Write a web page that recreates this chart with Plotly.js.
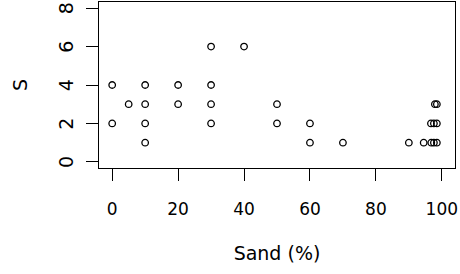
<!DOCTYPE html>
<html>
<head>
<meta charset="utf-8">
<script src="https://cdn.plot.ly/plotly-3.0.1.min.js"></script>
<style>html,body{margin:0;padding:0;background:#fff;}#chart{width:460px;height:274px;}</style>
</head>
<body>
<div id="chart"></div>
<script>
var sand = [0, 0, 5, 10, 10, 10, 10, 20, 20, 30, 30, 30, 30, 40, 50, 50, 60, 60, 70, 90, 94.5, 96.8, 97.6, 98.5, 96.7, 97.6, 98.5, 97.9, 98.5];
var S    = [4, 2, 3, 4, 3, 2, 1, 4, 3, 6, 4, 3, 2, 6, 3, 2, 2, 1, 1, 1, 1, 1, 1, 1, 2, 2, 2, 3, 3];
var xTicks = [0, 20, 40, 60, 80, 100];
var yTicks = [0, 2, 4, 6, 8];

var trace = {
  x: sand, y: S, type: 'scatter', mode: 'markers',
  marker: {symbol: 'circle-open', size: 6.5, color: '#000', line: {width: 1.3, color: '#000'}},
  hoverinfo: 'skip', cliponaxis: false
};
var layout = {
  width: 460, height: 274,
  margin: {l: 99, r: 5, t: 2, b: 106},
  paper_bgcolor: '#fff', plot_bgcolor: '#fff',
  showlegend: false,
  font: {family: 'DejaVu Sans, sans-serif', color: '#000', size: 17},
  xaxis: {
    range: [-4, 104], tickvals: xTicks, ticktext: xTicks.map(String),
    showgrid: false, zeroline: false, showline: true, mirror: true,
    linecolor: '#000', linewidth: 1, ticks: 'outside', ticklen: 12, tickwidth: 1, tickcolor: '#000',
    tickfont: {size: 17}, ticklabelstandoff: 14, ticklabeloverflow: 'allow',
    title: {text: 'Sand (%)', font: {size: 19}, standoff: 28}
  },
  yaxis: {
    range: [-0.32, 8.32], tickvals: yTicks, ticktext: yTicks.map(String),
    showgrid: false, zeroline: false, showline: true, mirror: true,
    linecolor: '#000', linewidth: 1, ticks: 'outside', ticklen: 12, tickwidth: 1, tickcolor: '#000',
    tickangle: -90, tickfont: {size: 19}, ticklabelstandoff: 5, ticklabelshift: 3, ticklabeloverflow: 'allow',
    title: {text: 'S', font: {size: 19}, standoff: 22}
  }
};
Plotly.newPlot('chart', [trace], layout, {displayModeBar: false, staticPlot: true});
</script>
</body>
</html>
